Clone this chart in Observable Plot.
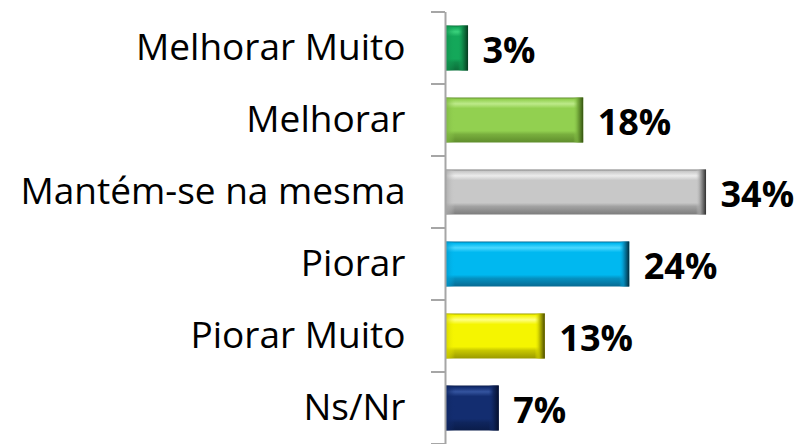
<!DOCTYPE html>
<html><head><meta charset="utf-8">
<script src="https://cdn.jsdelivr.net/npm/d3@7"></script>
<script src="https://cdn.jsdelivr.net/npm/@observablehq/plot@0.6"></script>
<style>html,body{margin:0;padding:0;background:#fff} #chart svg{display:block}</style>
</head><body><div id="chart"></div>
<script>
const categories = ["Melhorar Muito", "Melhorar", "Mantém-se na mesma", "Piorar", "Piorar Muito", "Ns/Nr"];
const values = [3, 18, 34, 24, 13, 7];
const valueLabels = ["3%", "18%", "34%", "24%", "13%", "7%"];
const faceColors  = ["#14a85a", "#92d050", "#c8c8c8", "#00b8f0", "#f5f500", "#132d70"];
const lightColors = ["#3ad27c", "#bdea8a", "#ececec", "#4ad8ff", "#ffff80", "#34549f"];
const midColors   = ["#0c6e3a", "#5f8d2c", "#7c7c7c", "#086a92", "#9a9a00", "#0a1c4a"];
const darkColors  = ["#053a1e", "#34520f", "#2e2e2e", "#012a3a", "#4a4a00", "#050f2c"];

const data = categories.map((c, i) => ({
  category: c, value: values[i], label: valueLabels[i],
  body: `url(#gv${i})`, left: `url(#gl${i})`, right: `url(#gr${i})`
}));

const barInset = 13.5, bevel = 10;

const chart = Plot.plot({
  width: 802,
  height: 444,
  marginLeft: 445,
  marginRight: 0,
  marginTop: 12,
  marginBottom: 0,
  style: {fontFamily: "'Open Sans', sans-serif", fontSize: "37px", color: "#000", background: "#fff"},
  x: {domain: [0, 46.5], axis: null},
  y: {domain: categories, padding: 0, tickSize: 0, tickPadding: 40, label: null},
  color: {type: "identity"},
  marks: [
    Plot.barX(data, {x: "value", y: "category", fill: "body", insetTop: barInset, insetBottom: barInset}),
    Plot.barX(data, {x1: () => 0, x2: () => 0, y: "category", fill: "left", insetTop: barInset, insetBottom: barInset, insetRight: -bevel}),
    Plot.barX(data, {x1: "value", x2: "value", y: "category", fill: "right", insetTop: barInset, insetBottom: barInset, insetLeft: -bevel}),
    Plot.text(data, {x: "value", y: "category", text: "label", dx: 14, dy: 3, textAnchor: "start", fontWeight: "bold", fontSize: 36, fill: "#000"}),
    Plot.ruleX([0], {stroke: "#a6a6a6", strokeWidth: 2})
  ]
});

// gradient definitions for the bevelled bar look
const defs = d3.select(chart).insert("defs", ":first-child");
categories.forEach((c, i) => {
  const gv = defs.append("linearGradient").attr("id", `gv${i}`).attr("x1", 0).attr("y1", 0).attr("x2", 0).attr("y2", 1);
  [[0, midColors[i]], [0.04, faceColors[i]], [0.14, lightColors[i]], [0.24, faceColors[i]], [0.74, faceColors[i]], [0.82, d3.interpolateRgb(faceColors[i], midColors[i])(0.5)], [1, midColors[i]]]
    .forEach(([o, col]) => gv.append("stop").attr("offset", o).attr("stop-color", col));
  const gl = defs.append("linearGradient").attr("id", `gl${i}`).attr("x1", 0).attr("y1", 0).attr("x2", 1).attr("y2", 0);
  [[0, d3.interpolateRgb(faceColors[i], midColors[i])(0.45)], [1, faceColors[i]]]
    .forEach(([o, col]) => gl.append("stop").attr("offset", o).attr("stop-color", col).attr("stop-opacity", o === 0 ? 0.9 : 0));
  const gr = defs.append("linearGradient").attr("id", `gr${i}`).attr("x1", 0).attr("y1", 0).attr("x2", 1).attr("y2", 0);
  [[0, faceColors[i], 0], [0.45, d3.interpolateRgb(faceColors[i], midColors[i])(0.6), 0.9], [1, darkColors[i], 1]]
    .forEach(([o, col, op]) => gr.append("stop").attr("offset", o).attr("stop-color", col).attr("stop-opacity", op));
});

// category boundary ticks (Excel style), placed through the plot's own scales
const ys = chart.scale("y");
const xs = chart.scale("x");
const x0 = xs.apply(0);
const bounds = categories.map(c => ys.apply(c));
bounds.push(ys.apply(categories[categories.length - 1]) + ys.bandwidth);
d3.select(chart).append("g")
  .attr("stroke", "#a6a6a6").attr("stroke-width", 2)
  .selectAll("line").data(bounds).join("line")
  .attr("x1", x0 - 14).attr("x2", x0)
  .attr("y1", d => d).attr("y2", d => d);

document.getElementById("chart").append(chart);
</script>
</body></html>
